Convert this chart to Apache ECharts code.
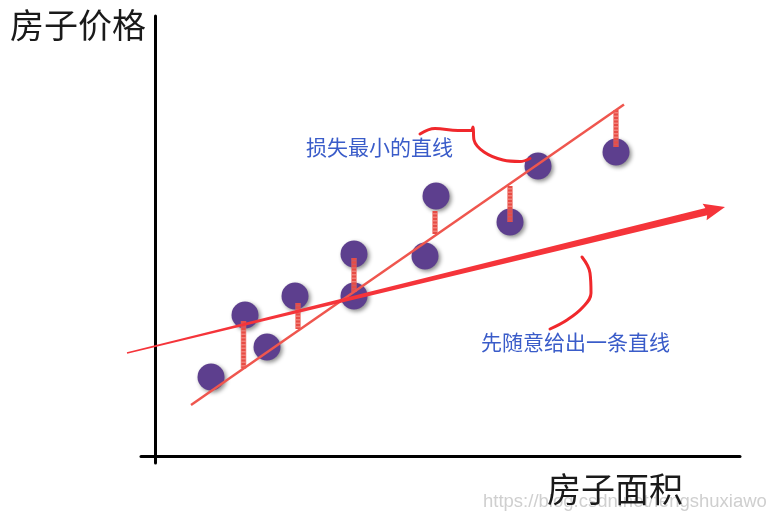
<!DOCTYPE html>
<html>
<head>
<meta charset="utf-8">
<script src="https://cdn.jsdelivr.net/npm/echarts@6/dist/echarts.min.js"></script>
<style>
html,body{margin:0;padding:0;background:#fff;}
#c{width:775px;height:519px;}
</style>
</head>
<body>
<div id="c"></div>
<script>
// Data (area units, price units)
var housePoints = [
  [5.6, 7.9], [9.0, 14.1], [11.2, 10.9], [14.0, 16.0], [19.9, 20.2],
  [19.9, 16.0], [27.0, 20.0], [28.1, 26.0], [35.5, 23.4], [38.3, 29.0], [46.1, 30.4]
];
// best-fit line (minimum loss) endpoints
var bestLine = [[3.6, 5.1], [46.9, 35.15]];
// arbitrary initial line (arrow): start and tip
var randomLine = [[-2.8, 10.3, 57.0, 24.9]];
// residuals: [x, top, bottom]
var residuals = [
  [8.85, 13.5, 8.75], [14.3, 15.3, 12.7], [19.9, 19.8, 16.4],
  [28.0, 24.5, 22.2], [35.5, 27.0, 23.4], [46.1, 34.6, 30.9]
];
// hand-drawn annotation strokes
var strokeTop = [[26.5, 32.2], [28.0, 32.75], [30.3, 32.55], [31.6, 32.55], [31.8, 32.9],
  [31.9, 31.6], [32.9, 30.4], [34.8, 29.6], [36.5, 29.45], [37.5, 29.75]];
var strokeBottom = [[42.7, 19.9], [43.5, 18.3], [43.6, 16.3], [42.8, 14.9], [41.2, 13.6], [39.5, 12.7]];
var texts = {
  yName: '房子价格', xName: '房子面积',
  best: '损失最小的直线', random: '先随意给出一条直线',
  mark: 'https://blog.csdn.net/fengshuxiawo'
};

var chart = echarts.init(document.getElementById('c'), null, {renderer: 'canvas'});
var cjk = '"Noto Sans CJK SC", sans-serif';

chart.setOption({
  backgroundColor: '#ffffff',
  animation: false,
  grid: {left: 141, right: 35, top: 16, bottom: 56},
  xAxis: {
    type: 'value', min: -1.4, max: 58.5,
    axisLine: {show: true, onZero: true, lineStyle: {color: '#000', width: 3}},
    axisTick: {show: false}, axisLabel: {show: false}, splitLine: {show: false}
  },
  yAxis: {
    type: 'value', min: -0.7, max: 44.0,
    axisLine: {show: true, onZero: true, lineStyle: {color: '#000', width: 3}},
    axisTick: {show: false}, axisLabel: {show: false}, splitLine: {show: false}
  },
  graphic: [
    {type: 'text', left: 483, top: 492, z: 1, style: {text: texts.mark, font: '18.5px "Liberation Sans", Arial, sans-serif', fill: '#cfcfcf'}},
    {type: 'text', x: 10, y: 25, z: 10, style: {text: texts.yName, font: '34px ' + cjk, fill: '#1a1a1a', textVerticalAlign: 'middle'}},
    {type: 'text', x: 547, y: 489, z: 10, style: {text: texts.xName, font: '34px ' + cjk, fill: '#1a1a1a', textVerticalAlign: 'middle'}},
    {type: 'text', x: 306, y: 147, z: 10, style: {text: texts.best, font: '21px ' + cjk, fill: '#3a5cc9', textVerticalAlign: 'middle'}},
    {type: 'text', x: 481, y: 342.5, z: 10, style: {text: texts.random, font: '21px ' + cjk, fill: '#3a5cc9', textVerticalAlign: 'middle'}}
  ],
  series: [
    {
      type: 'scatter', data: housePoints, symbolSize: 27, z: 2,
      itemStyle: {color: '#5d3f8e', opacity: 1, shadowBlur: 4, shadowColor: 'rgba(0,0,0,0.45)', shadowOffsetX: 2, shadowOffsetY: 2}
    },
    {
      type: 'custom', z: 3, data: residuals,
      encode: {x: 0, y: [1, 2]},
      renderItem: function (params, api) {
        var a = api.coord([api.value(0), api.value(1)]);
        var b = api.coord([api.value(0), api.value(2)]);
        return {type: 'group', children: [
          {type: 'line', shape: {x1: a[0], y1: a[1], x2: b[0], y2: b[1]}, style: {stroke: 'rgba(236,96,86,0.8)', lineWidth: 5.5}},
          {type: 'line', shape: {x1: a[0], y1: a[1], x2: b[0], y2: b[1]}, style: {stroke: '#e84c45', lineWidth: 4, lineDash: [2, 1.5]}}
        ]};
      }
    },
    {
      type: 'line', data: bestLine, z: 4, symbol: 'none',
      lineStyle: {color: '#ef564e', width: 2.5}
    },
    {
      type: 'custom', z: 5, data: randomLine,
      encode: {x: [0, 2], y: [1, 3]},
      renderItem: function (params, api) {
        var p0 = api.coord([api.value(0), api.value(1)]);
        var p1 = api.coord([api.value(2), api.value(3)]);
        var dx = p1[0] - p0[0], dy = p1[1] - p0[1];
        var len = Math.sqrt(dx * dx + dy * dy);
        var ux = dx / len, uy = dy / len, nx = -uy, ny = ux;
        var hl = 19, hw = 8.5, w0 = 0.7, w1 = 3.7;
        var se = [p1[0] - ux * hl, p1[1] - uy * hl];
        var shaft = [
          [p0[0] + nx * w0, p0[1] + ny * w0], [se[0] + ux * 2 + nx * w1, se[1] + uy * 2 + ny * w1],
          [se[0] + ux * 2 - nx * w1, se[1] + uy * 2 - ny * w1], [p0[0] - nx * w0, p0[1] - ny * w0]
        ];
        var head = [
          [se[0] - ux * 2 + nx * hw, se[1] - uy * 2 + ny * hw], p1,
          [se[0] - ux * 2 - nx * hw, se[1] - uy * 2 - ny * hw], [se[0] + ux * 1, se[1] + uy * 1]
        ];
        return {type: 'group', children: [
          {type: 'polygon', shape: {points: shaft}, style: {fill: '#f5343a'}},
          {type: 'polygon', shape: {points: head}, style: {fill: '#f5343a'}}
        ]};
      }
    },
    {
      type: 'line', data: strokeTop, z: 6, symbol: 'none', smooth: 0.4,
      lineStyle: {color: '#f0282c', width: 3, cap: 'round', join: 'round'}
    },
    {
      type: 'line', data: strokeBottom, z: 6, symbol: 'none', smooth: 0.4,
      lineStyle: {color: '#f0282c', width: 3, cap: 'round', join: 'round'}
    }
  ]
});
</script>
</body>
</html>
